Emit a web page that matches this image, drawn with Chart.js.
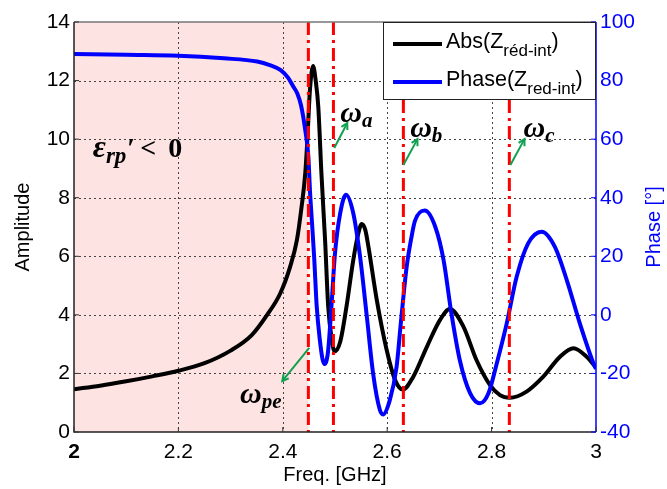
<!DOCTYPE html>
<html lang="fr">
  <head>
    <meta charset="UTF-8" />
    <script src="https://cdn.jsdelivr.net/npm/chart.js"></script>
    <title>Abs et phase de Z réd-int</title>
    <style>
      html, body { margin: 0; padding: 0; background: #fff; }
    </style>
  </head>
  <body>
    <canvas id="myChart" width="667" height="489"></canvas>
  <script>
    // donnees
    const absFreq = [2.00, 2.05, 2.10, 2.15, 2.20, 2.25, 2.30, 2.34, 2.37, 2.395, 2.414, 2.427, 2.436, 2.443, 2.447, 2.452, 2.458, 2.463, 2.468, 2.474, 2.481, 2.487, 2.494, 2.499, 2.51, 2.522, 2.535, 2.545, 2.551, 2.558, 2.564, 2.58, 2.599, 2.615, 2.63, 2.65, 2.676, 2.701, 2.72, 2.746, 2.771, 2.797, 2.816, 2.835, 2.867, 2.899, 2.931, 2.957, 2.982, 3.0];
    const absVals = [1.46, 1.58, 1.73, 1.90, 2.09, 2.35, 2.78, 3.30, 4.00, 4.73, 5.64, 6.55, 7.69, 8.83, 9.97, 11.68, 12.5, 12.0, 11.1, 8.83, 6.55, 4.28, 3.14, 2.75, 3.08, 4.28, 5.87, 6.8, 7.1, 6.9, 6.33, 4.51, 2.8, 1.78, 1.45, 1.89, 2.91, 3.82, 4.2, 3.6, 2.46, 1.6, 1.26, 1.17, 1.38, 1.89, 2.57, 2.86, 2.57, 2.2];

    const phaseFreq = [2.00, 2.10, 2.20, 2.287, 2.351, 2.375, 2.396, 2.41, 2.42, 2.428, 2.435, 2.443, 2.449, 2.452, 2.456, 2.46, 2.465, 2.471, 2.476, 2.48, 2.484, 2.487, 2.494, 2.5, 2.51, 2.521, 2.535, 2.548, 2.561, 2.573, 2.586, 2.592, 2.605, 2.618, 2.626, 2.637, 2.647, 2.653, 2.672, 2.692, 2.708, 2.723, 2.739, 2.759, 2.778, 2.794, 2.81, 2.829, 2.848, 2.87, 2.896, 2.921, 2.944, 2.969, 2.995, 3.0];
    const phaseVals = [89.1, 88.8, 88.5, 87.6, 86.5, 85.3, 83.6, 81.0, 78.0, 75.5, 71.5, 63.1, 54.0, 42.6, 31.3, 19.9, 2.8, -8.6, -15, -16.8, -15.5, -12.0, 5.1, 21.0, 34.7, 41.0, 34.7, 19.9, -0.6, -20, -32.5, -34, -29.1, -17.7, -3, 16, 27, 32, 35.6, 30.1, 18.7, 0.5, -15.4, -26.8, -30.2, -26.8, -16.5, -2.9, 13.0, 24.4, 28.4, 23.3, 11.9, -2.9, -16.5, -18.5];

    const freqTicks = [2, 2.2, 2.4, 2.6, 2.8, 3];
    const ampTicks = [0, 2, 4, 6, 8, 10, 12, 14];
    const phaseTicks = [-40, -20, 0, 20, 40, 60, 80, 100];

    // frequences des traits rouges (wpe, wa, wb, wc)
    const markerFreqs = [2.449, 2.497, 2.631, 2.834];
    const negEpsEnd = 2.449;

    const police = "'Liberation Sans', Arial, sans-serif";
    const serif = "'Liberation Serif', 'DejaVu Serif', serif";

    function toPts(xs, ys) {
      return xs.map((x, i) => ({ x: x, y: ys[i] }));
    }

    // texte avec indice
    function texteIndice(ctx, x, y, morceaux) {
      let cx = x;
      morceaux.forEach((m) => {
        ctx.font = m.font;
        cx += m.pre || 0;
        ctx.fillText(m.t, cx, y + (m.dy || 0));
        cx += ctx.measureText(m.t).width;
      });
      return cx;
    }

    function fleche(ctx, x0, y0, x1, y1) {
      const ang = Math.atan2(y1 - y0, x1 - x0);
      const L = 7;
      ctx.beginPath();
      ctx.moveTo(x0, y0);
      ctx.lineTo(x1, y1);
      ctx.stroke();
      ctx.beginPath();
      ctx.moveTo(x1 - L * Math.cos(ang - 0.5), y1 - L * Math.sin(ang - 0.5));
      ctx.lineTo(x1, y1);
      ctx.lineTo(x1 - L * Math.cos(ang + 0.5), y1 - L * Math.sin(ang + 0.5));
      ctx.stroke();
    }

    const fondPlugin = {
      id: "fond",
      beforeDraw(chart) {
        const { ctx, chartArea: a, scales } = chart;
        ctx.save();
        ctx.fillStyle = "#fff";
        ctx.fillRect(0, 0, chart.width, chart.height);
        const xEnd = scales.x.getPixelForValue(negEpsEnd);
        ctx.fillStyle = "#fee3e3";
        ctx.fillRect(a.left, a.top, xEnd - a.left, a.bottom - a.top);
        ctx.restore();
      },
      beforeDatasetsDraw(chart) {
        // grille pointillee
        const { ctx, chartArea: a, scales } = chart;
        ctx.save();
        ctx.strokeStyle = "#444";
        ctx.lineWidth = 1;
        ctx.setLineDash([2, 3]);
        freqTicks.slice(1, -1).forEach((v) => {
          const px = Math.round(scales.x.getPixelForValue(v)) + 0.5;
          ctx.beginPath();
          ctx.moveTo(px, a.top);
          ctx.lineTo(px, a.bottom);
          ctx.stroke();
        });
        ampTicks.slice(1, -1).forEach((v) => {
          const py = Math.round(scales.y.getPixelForValue(v)) + 0.5;
          ctx.beginPath();
          ctx.moveTo(a.left, py);
          ctx.lineTo(a.right, py);
          ctx.stroke();
        });
        ctx.restore();
      },
      afterDraw(chart) {
        const { ctx, chartArea: a, scales } = chart;
        const x = scales.x, y = scales.y, y1 = scales.y1;
        ctx.save();

        // traits rouges
        ctx.strokeStyle = "#ff0000";
        ctx.lineWidth = 3;
        ctx.setLineDash([13, 5, 3, 5]);
        markerFreqs.forEach((f) => {
          const px = x.getPixelForValue(f);
          ctx.beginPath();
          ctx.moveTo(px, a.top);
          ctx.lineTo(px, a.bottom);
          ctx.stroke();
        });
        ctx.setLineDash([]);

        // cadre
        ctx.lineWidth = 1.5;
        ctx.strokeStyle = "#777";
        ctx.beginPath();
        ctx.moveTo(a.left, a.top);
        ctx.lineTo(a.right, a.top);
        ctx.stroke();
        ctx.strokeStyle = "#222";
        ctx.beginPath();
        ctx.moveTo(a.left, a.top);
        ctx.lineTo(a.left, a.bottom);
        ctx.lineTo(a.right, a.bottom);
        ctx.stroke();
        ctx.strokeStyle = "#0000ff";
        ctx.beginPath();
        ctx.moveTo(a.right, a.top);
        ctx.lineTo(a.right, a.bottom);
        ctx.stroke();

        // petites graduations vers l'interieur
        ctx.lineWidth = 1;
        ctx.strokeStyle = "#333";
        ampTicks.forEach((v) => {
          const py = y.getPixelForValue(v);
          ctx.beginPath();
          ctx.moveTo(a.left, py);
          ctx.lineTo(a.left + 5, py);
          ctx.stroke();
        });
        freqTicks.forEach((v) => {
          const px = x.getPixelForValue(v);
          ctx.beginPath();
          ctx.moveTo(px, a.bottom);
          ctx.lineTo(px, a.bottom - 5);
          ctx.stroke();
        });
        ctx.strokeStyle = "#0000ff";
        phaseTicks.forEach((v) => {
          const py = y1.getPixelForValue(v);
          ctx.beginPath();
          ctx.moveTo(a.right, py);
          ctx.lineTo(a.right - 5, py);
          ctx.stroke();
        });

        // titre de l'axe de droite, lu de bas en haut
        ctx.save();
        ctx.translate(654, (a.top + a.bottom) / 2);
        ctx.rotate(-Math.PI / 2);
        ctx.textAlign = "center";
        ctx.textBaseline = "middle";
        ctx.fillStyle = "#0000ff";
        ctx.font = "20px " + police;
        ctx.fillText("Phase [°]", 0, 0);
        ctx.restore();

        // annotations
        ctx.fillStyle = "#000";
        ctx.textAlign = "left";
        ctx.textBaseline = "alphabetic";
        texteIndice(ctx, x.getPixelForValue(2.036), y.getPixelForValue(9.39), [
          { t: "ε", font: "bold italic 32px " + serif },
          { t: "rp", font: "bold italic 23px " + serif, dy: 6 },
          { t: "′", font: "bold 28px " + serif, pre: 1 },
          { t: "<", font: "bold 28px " + serif, pre: 5 },
          { t: "0", font: "bold 28px " + serif, pre: 12 }
        ]);

        const omegas = [
          { fx: 2.318, vy: 0.99, s: "pe", a0: [2.4506, 2.87], a1: [2.399, 1.74] },
          { fx: 2.51, vy: 10.6, s: "a", a0: [2.4986, 9.70], a1: [2.5235, 10.55] },
          { fx: 2.644, vy: 10.07, s: "b", a0: [2.631, 9.12], a1: [2.658, 10.0] },
          { fx: 2.861, vy: 10.07, s: "c", a0: [2.836, 9.12], a1: [2.863, 10.0] }
        ];
        omegas.forEach((o) => {
          ctx.fillStyle = "#000";
          texteIndice(ctx, x.getPixelForValue(o.fx), y.getPixelForValue(o.vy), [
            { t: "ω", font: "bold italic 30px " + serif },
            { t: o.s, font: "bold italic 21px " + serif, dy: 5 }
          ]);
          ctx.strokeStyle = "#10a050";
          ctx.lineWidth = 2;
          fleche(ctx,
            x.getPixelForValue(o.a0[0]), y.getPixelForValue(o.a0[1]),
            x.getPixelForValue(o.a1[0]), y.getPixelForValue(o.a1[1]));
        });

        // legende
        const bx = a.right - 213, by = a.top, bw = 213, bh = 78;
        ctx.fillStyle = "#fff";
        ctx.fillRect(bx, by, bw, bh);
        ctx.strokeStyle = "#222";
        ctx.lineWidth = 1;
        ctx.strokeRect(bx + 0.5, by + 0.5, bw - 1, bh - 1);
        const entrees = [
          { c: "#000", t: "Abs(Z", s: "réd-int", dy: 22 },
          { c: "#0000ff", t: "Phase(Z", s: "red-int", dy: 60 }
        ];
        entrees.forEach((e) => {
          const ly = by + e.dy;
          ctx.strokeStyle = e.c;
          ctx.lineWidth = 4;
          ctx.beginPath();
          ctx.moveTo(bx + 10, ly);
          ctx.lineTo(bx + 59, ly);
          ctx.stroke();
          ctx.fillStyle = "#000";
          texteIndice(ctx, bx + 63, ly + 4, [
            { t: e.t, font: "21.5px " + police },
            { t: e.s, font: "17px " + police, dy: 8 },
            { t: ")", font: "21.5px " + police }
          ]);
        });

        ctx.restore();
      }
    };

    const ctx = document.getElementById("myChart");

    new Chart(ctx, {
      type: "line",
      data: {
        datasets: [
          {
            label: "Abs(Z réd-int)",
            data: toPts(absFreq, absVals),
            borderColor: "#000",
            backgroundColor: "#000",
            borderWidth: 4,
            pointRadius: 0,
            cubicInterpolationMode: "monotone",
            yAxisID: "y",
            order: 2
          },
          {
            label: "Phase(Z red-int)",
            data: toPts(phaseFreq, phaseVals),
            borderColor: "#0000ff",
            backgroundColor: "#0000ff",
            borderWidth: 4,
            pointRadius: 0,
            cubicInterpolationMode: "monotone",
            yAxisID: "y1",
            order: 1
          }
        ]
      },
      options: {
        responsive: false,
        animation: false,
        layout: { padding: { top: 22, left: 0, right: 0, bottom: 0 } },
        plugins: {
          legend: { display: false },
          tooltip: { enabled: false }
        },
        scales: {
          x: {
            type: "linear",
            min: 2,
            max: 3,
            afterBuildTicks: (s) => { s.ticks = freqTicks.map((v) => ({ value: v })); },
            afterFit: (s) => { s.height = 57; },
            grid: { display: false, drawTicks: false },
            border: { display: false },
            ticks: {
              color: "#000",
              padding: 8,
              maxRotation: 0,
              callback: (v) => String(Number(v.toFixed(2))),
              font: (c) => ({ family: police, size: 21, weight: c.index === 0 ? "bold" : "normal" })
            },
            title: {
              display: true,
              text: "Freq. [GHz]",
              color: "#000",
              font: { family: police, size: 20 },
              padding: { top: 0, bottom: 2 }
            }
          },
          y: {
            position: "left",
            min: 0,
            max: 14,
            afterBuildTicks: (s) => { s.ticks = ampTicks.map((v) => ({ value: v })); },
            afterFit: (s) => { s.width = 74; },
            grid: { display: false, drawTicks: false },
            border: { display: false },
            ticks: { color: "#000", padding: 4, font: { family: police, size: 21 } },
            title: {
              display: true,
              text: "Amplitude",
              color: "#000",
              font: { family: police, size: 20 },
              padding: { top: 11, bottom: 0 }
            }
          },
          y1: {
            position: "right",
            min: -40,
            max: 100,
            afterBuildTicks: (s) => { s.ticks = phaseTicks.map((v) => ({ value: v })); },
            afterFit: (s) => { s.width = 71; },
            grid: { display: false, drawTicks: false },
            border: { display: false },
            ticks: { color: "#0000ff", padding: 4, font: { family: police, size: 21 } },
            title: { display: false }
          }
        }
      },
      plugins: [fondPlugin]
    });
  </script>
  </body>
</html>
